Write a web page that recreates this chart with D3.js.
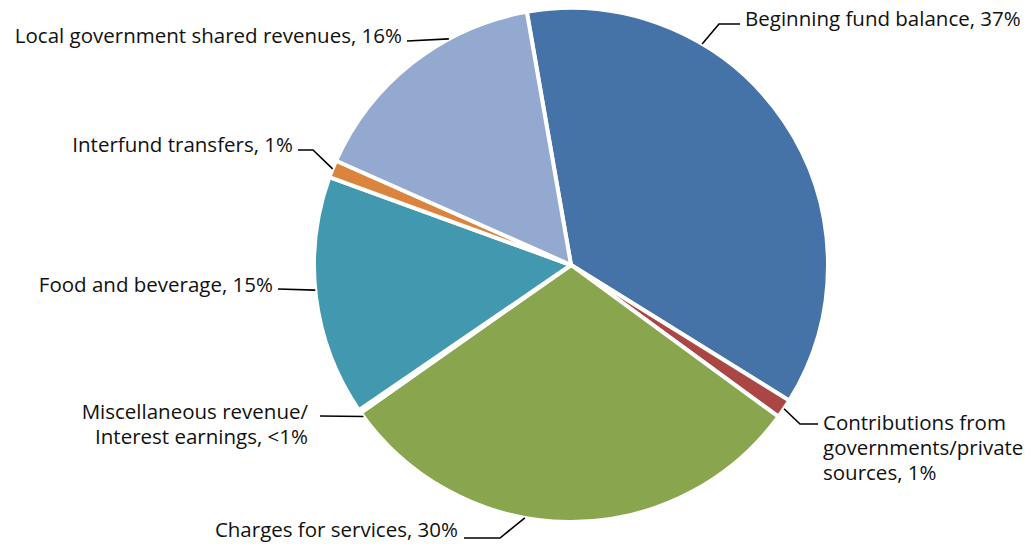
<!DOCTYPE html>
<html>
<head>
<meta charset="utf-8">
<script src="https://cdn.jsdelivr.net/npm/d3@7"></script>
<style>
  body { margin: 0; background: #fff; }
  svg text { font-family: "Open Sans", "Noto Sans", sans-serif; font-size: 20.5px; fill: #111; }
</style>
</head>
<body>
<svg width="1034" height="549"></svg>
<script>
// slices, clockwise from just left of 12 o'clock
var categories = ["Beginning fund balance", "Contributions from governments/private sources",
                  "Charges for services", "Miscellaneous revenue/Interest earnings",
                  "Food and beverage", "Interfund transfers", "Local government shared revenues"];
var values = [36.6, 1.2, 30.2, 0.2, 15.1, 1.1, 15.6];
var labelLines = [
  ["Beginning fund balance, 37%"],
  ["Contributions from", "governments/private", "sources, 1%"],
  ["Charges for services, 30%"],
  ["Miscellaneous revenue/", "Interest earnings, <1%"],
  ["Food and beverage, 15%"],
  ["Interfund transfers, 1%"],
  ["Local government shared revenues, 16%"]
];
var colors = ["#4572A7", "#AA4643", "#89A54E", "#80699B", "#4198AF", "#DB843D", "#93A9CF"];

// label placement (layout only)
var labelLayout = [
  {x: 745, y: 19,  anchor: "start", end: [740, 24],  elbow: [719, 24],  shift: -25.3},
  {x: 823, y: 423, anchor: "start", end: [818, 424], elbow: [800, 424], shift: 0},
  {x: 458, y: 530, anchor: "end",   end: [464, 538], elbow: [500, 538], shift: 9.8},
  {x: 308, y: 412, anchor: "end",   end: [320, 416], elbow: null,       shift: -1.4},
  {x: 273, y: 285, anchor: "end",   end: [278, 289], elbow: null,       shift: 1.6},
  {x: 293, y: 145, anchor: "end",   end: [298, 150], elbow: [313, 150], shift: 0},
  {x: 402, y: 36,  anchor: "end",   end: [407, 41],  elbow: null,       shift: 9.6}
];

var svg = d3.select("svg");
var cx = 571, cy = 265, radius = 257;
var start = -9.9 * Math.PI / 180;

var pie = d3.pie().sort(null).value(function(d) { return d; })
            .startAngle(start).endAngle(start + 2 * Math.PI);
var arc = d3.arc().innerRadius(0).outerRadius(radius);
var arcs = pie(values);

var g = svg.append("g").attr("transform", "translate(" + cx + "," + cy + ")");

g.selectAll("path.slice")
  .data(arcs)
  .enter().append("path")
  .attr("class", "slice")
  .attr("d", arc)
  .style("fill", function(d, i) { return colors[i]; })
  .style("stroke", "#fff")
  .style("stroke-width", 4)
  .style("stroke-linejoin", "round");

// leader lines
svg.selectAll("path.leader")
  .data(arcs)
  .enter().append("path")
  .attr("class", "leader")
  .attr("d", function(d, i) {
    var L = labelLayout[i];
    var a = (d.startAngle + d.endAngle) / 2 + L.shift * Math.PI / 180;
    var px = cx + radius * Math.sin(a), py = cy - radius * Math.cos(a);
    var pts = [[px, py]];
    if (L.elbow) pts.push(L.elbow);
    pts.push(L.end);
    return d3.line()(pts);
  })
  .style("fill", "none")
  .style("stroke", "#000")
  .style("stroke-width", 1.6);

// labels
var labels = svg.selectAll("text.label")
  .data(labelLines)
  .enter().append("text")
  .attr("class", "label")
  .attr("text-anchor", function(d, i) { return labelLayout[i].anchor; });

labels.each(function(lines, i) {
  var L = labelLayout[i];
  d3.select(this).selectAll("tspan")
    .data(lines)
    .enter().append("tspan")
    .attr("x", L.x)
    .attr("y", function(t, j) { return L.y + j * 25; })
    .attr("dy", "0.35em")
    .text(function(t) { return t; });
});
</script>
</body>
</html>
